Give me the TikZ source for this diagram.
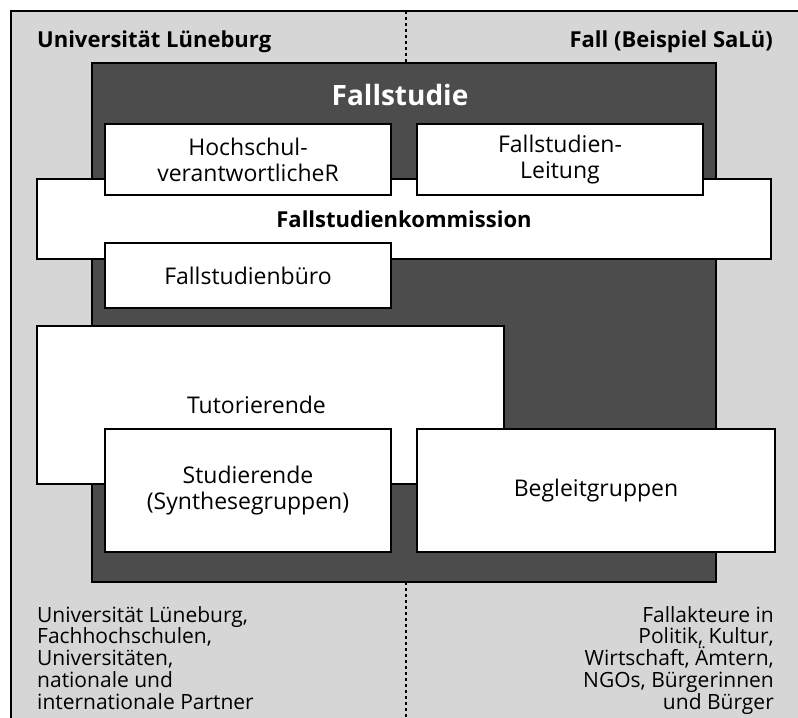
\documentclass[tikz,border=0pt]{standalone}
\usepackage{fontspec}
\setmainfont{Open Sans}
\usetikzlibrary{positioning}

\definecolor{panelgray}{gray}{0.84}
\definecolor{casegray}{gray}{0.30}

\begin{document}
\begin{tikzpicture}[
    x=1bp, y=-1bp,
    node distance=26bp,
    unit/.style={rectangle, draw=black, fill=white, line width=1.2bp, outer sep=0pt, inner sep=0pt,
        align=center, font=\fontsize{23bp}{26bp}\selectfont},
    casebox/.style={rectangle, draw=black, fill=casegray, line width=1.2bp, outer sep=0pt, inner sep=0pt},
    head/.style={inner sep=0pt, font=\fontsize{22bp}{24bp}\selectfont\bfseries},
    note/.style={inner sep=0pt, font=\fontsize{21bp}{21.75bp}\selectfont},
    divider/.style={line width=1.3bp, dash pattern=on 3bp off 3bp}
]
\useasboundingbox (0,0) rectangle (798,718);

% Background and frame
\fill[panelgray] (11,11) rectangle (798,718);
\draw[line width=1.5bp] (11,718) -- (11,11) -- (798,11);

% Nodes
\node (UniHead) [head, anchor=base west] at (37,48) {Universität Lüneburg};
\node (FallHead) [head, anchor=base east] at (773,48) {Fall (Beispiel SaLü)};

\node (CaseStudy) [casebox, minimum width=624bp, minimum height=519bp] at (404,322.5) {};
\node (CaseTitle) [inner sep=0pt, anchor=base, text=white, font=\fontsize{28bp}{30bp}\selectfont\bfseries] at (400,106) {Fallstudie};

\node (Kommission) [unit, minimum width=734bp, minimum height=80bp] at (404,219) {\fontsize{22bp}{26bp}\selectfont\bfseries Fallstudienkommission};
\node (Hochschul) [unit, minimum width=286bp, minimum height=71bp] at (248,159.5) {Hochschul-\\verantwortlicheR};
\node (Leitung) [unit, minimum width=286bp, minimum height=71bp, right=of Hochschul] {Fallstudien-\\Leitung};
\node (Buero) [unit, minimum width=286bp, minimum height=65bp, below=48bp of Hochschul] {Fallstudienbüro};

\node (Tutorierende) [unit, minimum width=467bp, minimum height=158bp] at (270.5,405) {Tutorierende\hspace*{28bp}};
\node (Studierende) [unit, minimum width=286bp, minimum height=123bp, below=121bp of Buero] {Studierende\\(Synthesegruppen)};
\node (Begleit) [unit, minimum width=358bp, minimum height=123bp, right=of Studierende] {Begleitgruppen};

\node (UniNote) [note, anchor=north west, align=left] at (37,606)
    {Universität Lüneburg,\\Fachhochschulen,\\Universitäten,\\nationale und\\internationale Partner};
\node (FallNote) [note, anchor=north east, align=right] at (774,606)
    {Fallakteure in\\Politik, Kultur,\\Wirtschaft, Ämtern,\\NGOs, Bürgerinnen\\und Bürger};

% Divider
\coordinate (DivTop) at (406,11);
\coordinate (DivBottom) at (406,718);
\draw[divider] (DivTop) -- (DivTop |- CaseStudy.north);
\draw[divider] (DivBottom |- CaseStudy.south) -- (DivBottom);

\end{tikzpicture}
\end{document}
